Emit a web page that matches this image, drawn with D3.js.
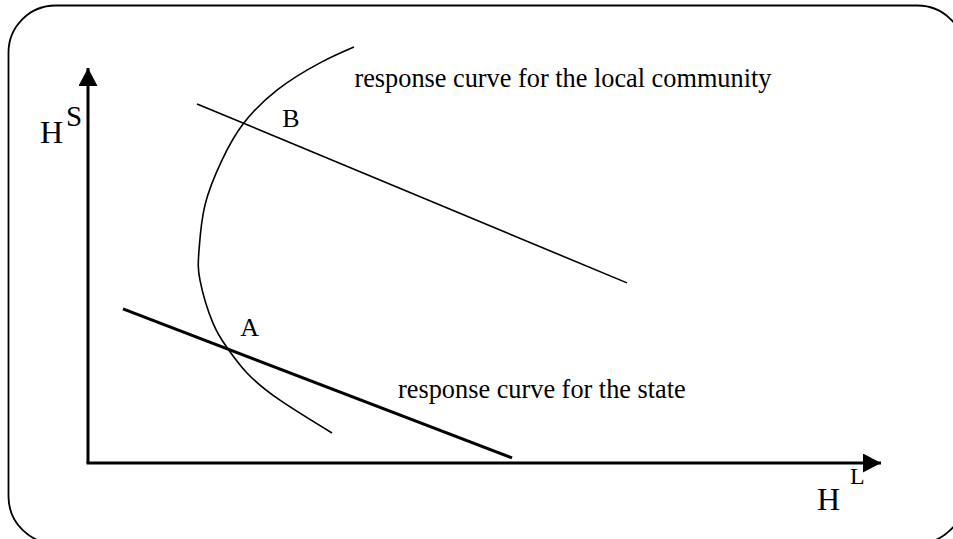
<!DOCTYPE html>
<html>
<head>
<meta charset="utf-8">
<script src="https://cdn.jsdelivr.net/npm/d3@7"></script>
<style>
  html, body { margin: 0; padding: 0; background: #fff; }
  svg { display: block; }
  text { font-family: "Liberation Serif", "Times New Roman", serif; fill: #000; }
</style>
</head>
<body>
<script>
// Response curve of the local community (bending back on itself)
const communityCurveX = [33.54, 29.26, 23.83, 19.55, 16.9, 14.75, 14.0, 14.12, 15.76, 17.65, 20.05, 24.21, 30.77];
const communityCurveY = [105.3, 101.3, 94.4, 85.8, 76.7, 65.3, 53.9, 46.3, 35.4, 28.9, 22.8, 15.9, 7.6];

// Upper straight line through B
const lineBX = [13.75, 67.97];
const lineBY = [90.9, 45.6];

// Response curve of the state (thick line through A)
const stateLineX = [4.41, 53.47];
const stateLineY = [39.0, 1.3];

// Point labels
const pointNames = ["A", "B"];
const pointX = [19.2, 24.5];
const pointY = [32.2, 85.1];

// Curve captions
const captions = ["response curve for the local community", "response curve for the state"];
const captionX = [33.6, 39.1];
const captionY = [95.2, 16.5];

const W = 953, H = 539;
const svg = d3.select("body").append("svg").attr("width", W).attr("height", H);

// Rounded frame
svg.append("rect")
  .attr("x", 8.5).attr("y", 5.5)
  .attr("width", 956).attr("height", 538)
  .attr("rx", 47).attr("ry", 47)
  .attr("fill", "none").attr("stroke", "#000").attr("stroke-width", 1.8);

const x = d3.scaleLinear().domain([0, 100]).range([88, 881]);
const y = d3.scaleLinear().domain([0, 100]).range([463, 68]);

// Arrowhead marker for the axes
const defs = svg.append("defs");
defs.append("marker")
  .attr("id", "arrow")
  .attr("viewBox", "0 0 18 19")
  .attr("refX", 18).attr("refY", 9.5)
  .attr("markerWidth", 18).attr("markerHeight", 19)
  .attr("markerUnits", "userSpaceOnUse")
  .attr("orient", "auto")
  .append("path")
  .attr("d", "M0,0 L18,9.5 L0,19 Z")
  .attr("fill", "#000");

// Axes
svg.append("line")
  .attr("x1", x(0)).attr("y1", y(0))
  .attr("x2", x(0)).attr("y2", y(100))
  .attr("stroke", "#000").attr("stroke-width", 3)
  .attr("marker-end", "url(#arrow)");
svg.append("line")
  .attr("x1", x(0) - 1.5).attr("y1", y(0))
  .attr("x2", x(100)).attr("y2", y(0))
  .attr("stroke", "#000").attr("stroke-width", 3)
  .attr("marker-end", "url(#arrow)");

// Curves
const curveLine = d3.line()
  .x(d => x(d[0])).y(d => y(d[1]))
  .curve(d3.curveNatural);
const straight = d3.line().x(d => x(d[0])).y(d => y(d[1]));

svg.append("path")
  .datum(d3.zip(communityCurveX, communityCurveY))
  .attr("d", curveLine)
  .attr("fill", "none").attr("stroke", "#000").attr("stroke-width", 1.6);

svg.append("path")
  .datum(d3.zip(lineBX, lineBY))
  .attr("d", straight)
  .attr("fill", "none").attr("stroke", "#000").attr("stroke-width", 1.6);

svg.append("path")
  .datum(d3.zip(stateLineX, stateLineY))
  .attr("d", straight)
  .attr("fill", "none").attr("stroke", "#000").attr("stroke-width", 3);

// Point labels
svg.selectAll("text.pt")
  .data(d3.zip(pointNames, pointX, pointY))
  .join("text")
  .attr("class", "pt")
  .attr("x", d => x(d[1])).attr("y", d => y(d[2]))
  .attr("font-size", 26)
  .text(d => d[0]);

// Captions
svg.selectAll("text.cap")
  .data(d3.zip(captions, captionX, captionY))
  .join("text")
  .attr("class", "cap")
  .attr("x", d => x(d[1])).attr("y", d => y(d[2]))
  .attr("font-size", 26.3)
  .text(d => d[0]);

// Axis titles
svg.append("text").attr("x", 40).attr("y", 143).attr("font-size", 32).text("H");
svg.append("text").attr("x", 66).attr("y", 126).attr("font-size", 29).text("S");
svg.append("text").attr("x", 817).attr("y", 510).attr("font-size", 32).text("H");
svg.append("text").attr("x", 850).attr("y", 484).attr("font-size", 24).text("L");
</script>
</body>
</html>
